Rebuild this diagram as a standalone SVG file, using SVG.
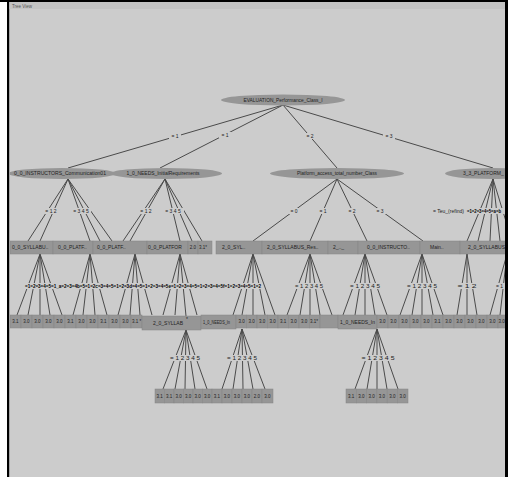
<svg xmlns="http://www.w3.org/2000/svg" width="508" height="477" viewBox="0 0 508 477">
<style>
.t{font-family:"Liberation Sans",Arial,sans-serif;font-size:5px;fill:#222}
.s{font-size:4.5px}
.m{text-anchor:middle}
.g{font-weight:bold;fill:#000}
.ed{stroke:#4a4a4a;stroke-width:1;fill:none}
.nd{fill:#969696}
.lf{fill:#969696;stroke:#858585;stroke-width:0.5}
.lb{fill:#ccc}
</style>
<defs><clipPath id="c"><rect x="9.5" y="2" width="495.5" height="475"/></clipPath></defs>
<rect width="508" height="477" fill="#fff"/>
<rect x="0" y="0" width="508" height="2" fill="#000"/>
<rect x="7" y="0" width="2.5" height="477" fill="#000"/>
<rect x="505" y="0" width="3" height="477" fill="#000"/>
<rect x="9.5" y="2" width="495.5" height="475" fill="#ccc"/>
<rect x="9.5" y="2" width="495.5" height="7" fill="#c3c3c3"/>
<text class="t" x="12" y="7.5" style="font-size:4.5px;fill:#555">Tree View</text>
<g clip-path="url(#c)">
<g id="edges">
<path class="ed" d="M283 105L68 168M283 105L160 168M283 105L337 168M283 105L493 168"/>
<path class="ed" d="M68 179L28 241M68 179L40 241M68 179L90 241M68 179L100 241M68 179L112 241"/>
<path class="ed" d="M165 179L123 241M165 179L130 241M165 179L180 241M165 179L192 241M165 179L202 241"/>
<path class="ed" d="M337 179L253 241M337 179L310 241M337 179L367 241M337 179L423 241"/>
<path class="ed" d="M493 179L467 241M493 179L478 241M493 179L490 241M493 179L500 241M493 179L512 241"/>
<path class="ed" d="M40 254L17 315M40 254L28 315M40 254L40 315M40 254L50 315M40 254L62 315"/>
<path class="ed" d="M90 254L73 315M90 254L83 315M90 254L95 315M90 254L107 315"/>
<path class="ed" d="M135 254L118 315M135 254L130 315M135 254L140 315M135 254L152 315"/>
<path class="ed" d="M180 254L163 315M180 254L175 315M180 254L186 316M180 254L197 315"/>
<path class="ed" d="M253 254L233 315M253 254L242 315M253 254L253 315M253 254L265 315M253 254L275 315"/>
<path class="ed" d="M310 254L287 315M310 254L300 315M310 254L310 315M310 254L320 315M310 254L332 315"/>
<path class="ed" d="M365 254L343 315M365 254L355 315M365 254L365 315M365 254L375 315M365 254L387 315"/>
<path class="ed" d="M422 254L400 315M422 254L412 315M422 254L422 315M422 254L433 315M422 254L443 315"/>
<path class="ed" d="M467 254L457 315M467 254L467 315M467 254L477 315"/>
<path class="ed" d="M507 254L490 315M507 254L500 315"/>
<path class="ed" d="M186 330L163 389M186 330L175 389M186 330L185 389M186 330L195 389M186 330L207 389"/>
<path class="ed" d="M242 329L222 389M242 329L233 389M242 329L243 389M242 329L253 389M242 329L265 389"/>
<path class="ed" d="M377 329L355 389M377 329L367 389M377 329L377 389M377 329L387 389M377 329L398 389"/>
</g>
<g id="edge-labels">
<rect class="lb" x="169" y="133" width="12" height="6"/><text class="t m" x="175" y="137.7">= 1</text>
<rect class="lb" x="219" y="132" width="12" height="6"/><text class="t m" x="225" y="136.7">= 1</text>
<rect class="lb" x="304" y="133" width="12" height="6"/><text class="t m" x="310" y="137.7">= 2</text>
<rect class="lb" x="383" y="133" width="12" height="6"/><text class="t m" x="389" y="137.7">= 3</text>
<rect class="lb" x="44" y="208" width="15" height="6"/><text class="t m" x="51" y="212.7">= 1 2</text>
<rect class="lb" x="71" y="208" width="20" height="6"/><text class="t m" x="81" y="212.7">= 3 4 5</text>
<rect class="lb" x="139" y="208" width="15" height="6"/><text class="t m" x="146" y="212.7">= 1 2</text>
<rect class="lb" x="162" y="208" width="22" height="6"/><text class="t m" x="173" y="212.7">= 3 4 5</text>
<rect class="lb" x="289" y="208" width="11" height="6"/><text class="t m" x="294" y="212.7">= 0</text>
<rect class="lb" x="318" y="208" width="11" height="6"/><text class="t m" x="323" y="212.7">= 1</text>
<rect class="lb" x="347" y="208" width="11" height="6"/><text class="t m" x="352" y="212.7">= 2</text>
<rect class="lb" x="375" y="208" width="11" height="6"/><text class="t m" x="380" y="212.7">= 3</text>
<rect class="lb" x="432" y="208" width="73" height="6"/>
<text class="t" x="433" y="212.7" textLength="31" lengthAdjust="spacingAndGlyphs">= Teu_(refind)</text>
<text class="t g" x="467" y="212.7" textLength="34" lengthAdjust="spacingAndGlyphs">=1=2=3=4=5=a=b</text>
<rect class="lb" x="24" y="283" width="238" height="6"/>
<text class="t g" x="25" y="287.8" textLength="236" lengthAdjust="spacingAndGlyphs">=1=2=3=4=5=1_a=2=3=4b=5=1=2c=3=4=5=1=2=3d=4=5=1=2=3=4=5e=1=2=3=4=5=1=2=3=4=5f=1=2=3=4=5=1=2</text>
<rect class="lb" x="294" y="283" width="30" height="6"/><text class="t m" x="309" y="287.7" textLength="28" lengthAdjust="spacingAndGlyphs">= 1 2 3 4 5</text>
<rect class="lb" x="349" y="283" width="32" height="6"/><text class="t m" x="365" y="287.7" textLength="30" lengthAdjust="spacingAndGlyphs">= 1 2 3 4 5</text>
<rect class="lb" x="406" y="283" width="32" height="6"/><text class="t m" x="422" y="287.7" textLength="30" lengthAdjust="spacingAndGlyphs">= 1 2 3 4 5</text>
<rect class="lb" x="457" y="283" width="21" height="6"/><text class="t m" x="467" y="287.7" textLength="19" lengthAdjust="spacingAndGlyphs">= 1 2</text>
<rect class="lb" x="496" y="283" width="9" height="6"/><text class="t" x="496" y="287.7">= 1</text>
<rect class="lb" x="169" y="355" width="32" height="6"/><text class="t m" x="185" y="359.7" textLength="30" lengthAdjust="spacingAndGlyphs">= 1 2 3 4 5</text>
<rect class="lb" x="226" y="355" width="32" height="6"/><text class="t m" x="242" y="359.7" textLength="30" lengthAdjust="spacingAndGlyphs">= 1 2 3 4 5</text>
<rect class="lb" x="361" y="355" width="35" height="6"/><text class="t m" x="378" y="359.7" textLength="33" lengthAdjust="spacingAndGlyphs">= 1 2 3 4 5</text>
</g>
<g id="root"><ellipse class="nd" cx="283" cy="100" rx="62" ry="5.5"/><text class="t m" x="283" y="101.8" textLength="79" lengthAdjust="spacingAndGlyphs">EVALUATION_Performance_Class_I</text></g>
<g id="n1"><ellipse class="nd" cx="62" cy="173.5" rx="54" ry="5.5"/><text class="t m" x="60" y="175.3" textLength="92" lengthAdjust="spacingAndGlyphs">0_0_INSTRUCTORS_Communication01</text></g>
<g id="n2"><ellipse class="nd" cx="166" cy="173.5" rx="56" ry="5.5"/><text class="t m" x="163" y="175.3" textLength="73" lengthAdjust="spacingAndGlyphs">1_0_NEEDS_InitialRequirements</text></g>
<g id="n3"><ellipse class="nd" cx="337" cy="173.5" rx="67" ry="5.5"/><text class="t m" x="337" y="175.3" textLength="80" lengthAdjust="spacingAndGlyphs">Platform_access_total_number_Class</text></g>
<g id="n4"><ellipse class="nd" cx="492" cy="173.5" rx="47" ry="5.5"/><text class="t" x="463" y="175.3">3_3_PLATFORM_</text></g>
<g id="level2">
<rect class="lf" x="10" y="241" width="43" height="13"/><text class="t" x="12" y="249.3">0_0_SYLLABU..</text>
<rect class="lf" x="53" y="241" width="40" height="13"/><text class="t" x="58" y="249.3">0_0_PLATF..</text>
<rect class="lf" x="93" y="241" width="54" height="13"/><text class="t" x="97" y="249.3">0_0_PLATF..</text>
<rect class="lf" x="147" y="241" width="41" height="13"/><text class="t" x="148" y="249.3">0_0_PLATFOR</text>
<rect class="lf" x="188" y="241" width="10" height="13"/><text class="t s m" x="193" y="249.3">2.0</text>
<rect class="lf" x="198" y="241" width="14" height="13"/><text class="t s" x="199" y="249.3">3.1*</text>
<rect class="lf" x="216" y="241" width="46" height="13"/><text class="t" x="222" y="249.3">2_0_SYL..</text>
<rect class="lf" x="262" y="241" width="66" height="13"/><text class="t" x="267" y="249.3">2_0_SYLLABUS_Res..</text>
<rect class="lf" x="328" y="241" width="30" height="13"/><text class="t" x="333" y="249.3">2_.._</text>
<rect class="lf" x="358" y="241" width="62" height="13"/><text class="t" x="367" y="249.3">0_0_INSTRUCTO..</text>
<rect class="lf" x="420" y="241" width="40" height="13"/><text class="t" x="430" y="249.3">Main..</text>
<rect class="lf" x="460" y="241" width="47" height="13"/><text class="t" x="468" y="249.3">2_0_SYLLABUS..</text>
</g>
<g id="level3">
<rect class="lf" x="10" y="315" width="11" height="13"/><text class="t s m" x="15.5" y="323.3">3.1</text>
<rect class="lf" x="21" y="315" width="11" height="13"/><text class="t s m" x="26.5" y="323.3">3.0</text>
<rect class="lf" x="32" y="315" width="11" height="13"/><text class="t s m" x="37.5" y="323.3">3.0</text>
<rect class="lf" x="43" y="315" width="11" height="13"/><text class="t s m" x="48.5" y="323.3">3.0</text>
<rect class="lf" x="54" y="315" width="11" height="13"/><text class="t s m" x="59.5" y="323.3">3.0</text>
<rect class="lf" x="65" y="315" width="11" height="13"/><text class="t s m" x="70.5" y="323.3">3.1</text>
<rect class="lf" x="76" y="315" width="11" height="13"/><text class="t s m" x="81.5" y="323.3">3.0</text>
<rect class="lf" x="87" y="315" width="11" height="13"/><text class="t s m" x="92.5" y="323.3">3.0</text>
<rect class="lf" x="98" y="315" width="11" height="13"/><text class="t s m" x="103.5" y="323.3">3.1</text>
<rect class="lf" x="109" y="315" width="11" height="13"/><text class="t s m" x="114.5" y="323.3">3.0</text>
<rect class="lf" x="120" y="315" width="11" height="13"/><text class="t s m" x="125.5" y="323.3">3.0</text>
<rect class="lf" x="131" y="315" width="11" height="13"/><text class="t s" x="132" y="323.3">3.1 *</text>
<rect class="lf" x="142" y="316" width="59" height="14"/><text class="t" x="153" y="324.8">2_0_SYLLAB</text><text class="t" x="186" y="321">*</text>
<rect class="lf" x="201" y="315" width="35" height="14"/><text class="t" x="203" y="324.3" textLength="27" lengthAdjust="spacingAndGlyphs">1_0_NEEDS_In</text>
<rect class="lf" x="236" y="315" width="10.5" height="13"/><text class="t s m" x="241.7" y="323.3">3.0</text>
<rect class="lf" x="246.5" y="315" width="10.5" height="13"/><text class="t s m" x="251.7" y="323.3">3.0</text>
<rect class="lf" x="257" y="315" width="10.5" height="13"/><text class="t s m" x="262.2" y="323.3">3.0</text>
<rect class="lf" x="267.5" y="315" width="10.5" height="13"/><text class="t s m" x="272.7" y="323.3">3.0</text>
<rect class="lf" x="278" y="315" width="10.5" height="13"/><text class="t s m" x="283.2" y="323.3">3.1</text>
<rect class="lf" x="288.5" y="315" width="10.5" height="13"/><text class="t s m" x="293.7" y="323.3">3.0</text>
<rect class="lf" x="299" y="315" width="10.5" height="13"/><text class="t s m" x="304.2" y="323.3">3.0</text>
<rect class="lf" x="309.5" y="315" width="10.5" height="13"/><text class="t s" x="310" y="323.3">3.1*</text>
<rect class="lf" x="320" y="315" width="18" height="13"/>
<rect class="lf" x="338" y="315" width="39" height="14"/><text class="t" x="340" y="324.3" textLength="35" lengthAdjust="spacingAndGlyphs">1_0_NEEDS_In</text>
<rect class="lf" x="377" y="315" width="11" height="13"/><text class="t s m" x="382.5" y="323.3">3.0</text>
<rect class="lf" x="388" y="315" width="11" height="13"/><text class="t s m" x="393.5" y="323.3">3.0</text>
<rect class="lf" x="399" y="315" width="11" height="13"/><text class="t s m" x="404.5" y="323.3">3.0</text>
<rect class="lf" x="410" y="315" width="11" height="13"/><text class="t s m" x="415.5" y="323.3">3.0</text>
<rect class="lf" x="421" y="315" width="11" height="13"/><text class="t s m" x="426.5" y="323.3">3.0</text>
<rect class="lf" x="432" y="315" width="11" height="13"/><text class="t s m" x="437.5" y="323.3">3.1</text>
<rect class="lf" x="443" y="315" width="11" height="13"/><text class="t s m" x="448.5" y="323.3">3.0</text>
<rect class="lf" x="454" y="315" width="11" height="13"/><text class="t s m" x="459.5" y="323.3">3.0</text>
<rect class="lf" x="465" y="315" width="11" height="13"/><text class="t s m" x="470.5" y="323.3">3.0</text>
<rect class="lf" x="476" y="315" width="11" height="13"/><text class="t s m" x="481.5" y="323.3">3.0</text>
<rect class="lf" x="487" y="315" width="11" height="13"/><text class="t s m" x="492.5" y="323.3">3.0</text>
<rect class="lf" x="498" y="315" width="11" height="13"/><text class="t s" x="498.5" y="323.3">3.0</text>
</g>
<g id="level4">
<rect class="lf" x="155" y="389" width="9.5" height="14"/><text class="t s m" x="159.7" y="397.6">3.1</text>
<rect class="lf" x="164.5" y="389" width="9.5" height="14"/><text class="t s m" x="169.2" y="397.6">3.1</text>
<rect class="lf" x="174" y="389" width="9.5" height="14"/><text class="t s m" x="178.7" y="397.6">3.0</text>
<rect class="lf" x="183.5" y="389" width="9.5" height="14"/><text class="t s m" x="188.2" y="397.6">3.0</text>
<rect class="lf" x="193" y="389" width="9.5" height="14"/><text class="t s m" x="197.7" y="397.6">3.0</text>
<rect class="lf" x="202.5" y="389" width="9.5" height="14"/><text class="t s m" x="207.2" y="397.6">3.0</text>
<rect class="lf" x="212" y="389" width="10" height="14"/><text class="t s m" x="217" y="397.6">3.1</text>
<rect class="lf" x="222" y="389" width="10" height="14"/><text class="t s m" x="227" y="397.6">3.0</text>
<rect class="lf" x="232" y="389" width="10" height="14"/><text class="t s m" x="237" y="397.6">3.0</text>
<rect class="lf" x="242" y="389" width="10" height="14"/><text class="t s m" x="247" y="397.6">3.0</text>
<rect class="lf" x="252" y="389" width="10" height="14"/><text class="t s m" x="257" y="397.6">2.0</text>
<rect class="lf" x="262" y="389" width="11" height="14"/><text class="t s m" x="267.5" y="397.6">3.0</text>
<rect class="lf" x="346" y="389" width="10.3" height="14"/><text class="t s m" x="351.1" y="397.6">3.1</text>
<rect class="lf" x="356.3" y="389" width="10.3" height="14"/><text class="t s m" x="361.4" y="397.6">3.0</text>
<rect class="lf" x="366.6" y="389" width="10.3" height="14"/><text class="t s m" x="371.7" y="397.6">3.0</text>
<rect class="lf" x="376.9" y="389" width="10.3" height="14"/><text class="t s m" x="382" y="397.6">3.0</text>
<rect class="lf" x="387.2" y="389" width="10.3" height="14"/><text class="t s m" x="392.3" y="397.6">3.0</text>
<rect class="lf" x="397.5" y="389" width="10.5" height="14"/><text class="t s m" x="402.7" y="397.6">3.0</text>
</g>
</g>
</svg>
